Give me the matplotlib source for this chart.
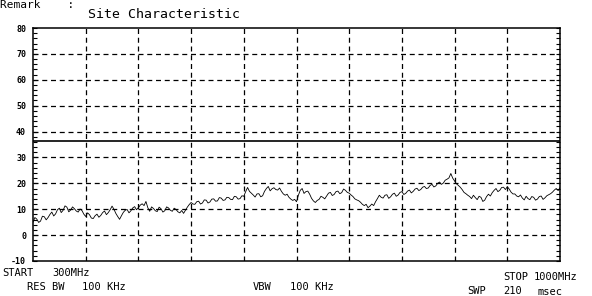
import numpy as np
import matplotlib
matplotlib.use("Agg")
import matplotlib.pyplot as plt

# Sweep 300 - 1000 MHz, trace (dBuV)
# readings on the 5 MHz points
level_on = [
    5.0, 6.2, 5.4, 7.1, 6.8, 8.9, 8.2, 10.4, 9.6, 10.8,
    9.7, 10.2, 8.9, 9.5, 7.2, 7.9, 6.4, 8.1, 7.6, 9.3,
    8.7, 11.2, 8.4, 6.1, 8.8, 9.9, 9.4, 11.0, 10.6, 12.1,
    13.0, 9.2, 10.3, 9.1, 10.2, 9.4, 10.5, 9.2, 9.9, 8.6,
    8.4, 10.8, 12.6, 11.9, 13.1, 12.4, 13.5, 12.8, 14.0, 13.2,
    14.3, 13.6, 14.5, 13.7, 14.8, 14.1, 15.0, 18.4, 16.2, 14.7,
    16.0, 15.2, 18.0, 17.1, 18.3, 17.4, 16.9, 15.4, 14.6, 13.4,
    12.9, 17.3, 16.1, 17.0, 14.2, 12.6, 13.8, 14.6, 15.1, 16.5,
    15.7, 17.0, 16.4, 17.3, 16.2, 14.9, 13.6, 12.7, 11.4, 10.6,
    12.0, 12.9, 15.4, 14.3, 15.6, 14.8, 16.2, 15.5, 16.8, 16.1,
    17.4, 16.9, 18.1, 17.6, 18.8, 18.2, 19.6, 19.0, 20.5, 20.1,
    21.6, 23.8, 20.9, 19.2, 17.6, 16.0, 14.9, 15.4, 13.7, 14.6,
    13.5, 15.8, 16.4, 18.0, 17.3, 18.5, 18.7, 16.6, 15.9, 14.8,
    14.3, 15.0, 13.7, 14.6, 13.9, 15.1, 14.4, 15.6, 16.6, 18.0,
    18.3,
]
# readings half way between (302.5, 307.5, ... 997.5 MHz)
level_half = [
    6.8, 4.9, 7.3, 5.9, 8.0, 7.4, 9.8, 8.7, 11.3, 9.0,
    10.9, 9.3, 10.1, 8.1, 8.6, 6.6, 7.5, 6.9, 8.7, 7.9,
    9.8, 10.0, 7.2, 7.5, 9.6, 8.6, 10.5, 9.8, 11.6, 11.4,
    10.6, 10.9, 9.4, 10.8, 8.9, 10.9, 9.6, 10.4, 9.0, 9.5,
    9.6, 11.8, 12.0, 12.9, 12.0, 13.6, 12.4, 13.9, 13.1, 14.5,
    13.4, 14.6, 13.8, 15.0, 13.9, 15.2, 16.8, 16.9, 15.5, 15.9,
    14.8, 16.9, 18.8, 17.9, 17.6, 18.2, 15.9, 15.8, 13.9, 13.8,
    15.4, 18.0, 16.8, 15.8, 13.2, 13.4, 15.0, 14.0, 16.2, 15.3,
    16.8, 16.0, 17.8, 16.5, 15.5, 14.0, 13.3, 11.9, 11.9, 11.2,
    11.4, 14.1, 14.6, 15.4, 14.2, 15.8, 15.0, 16.5, 15.7, 17.0,
    16.3, 17.8, 17.2, 18.5, 18.0, 19.2, 18.6, 20.0, 19.6, 21.2,
    22.1, 22.0, 19.8, 18.5, 16.5, 15.4, 14.1, 14.5, 15.0, 13.0,
    14.9, 15.1, 17.3, 16.8, 18.4, 17.6, 17.8, 15.9, 15.1, 15.5,
    13.6, 14.1, 14.9, 13.5, 14.9, 13.8, 15.2, 16.0, 17.4, 17.2,
]
limit_db = 36.2

freq_mhz = np.arange(300, 1000.1, 2.5)
level_db = np.empty(len(freq_mhz))
level_db[0::2] = level_on
level_db[1::2] = level_half

y_ticks = np.arange(-10, 81, 10)
y_labels = [str(v) for v in y_ticks]
x_grid = np.arange(370, 1000, 70)

mono = "DejaVu Sans Mono"

fig = plt.figure(figsize=(5.92, 2.96), dpi=100)
ax = fig.add_axes([33 / 592, 1 - 261 / 296, 527 / 592, 233 / 296])

# dashed graticule
for x in x_grid:
    ax.axvline(x, color="black", lw=0.9, ls=(0, (4, 3)), zorder=1)
for y in y_ticks[1:-1]:
    ax.axhline(y, color="black", lw=0.9, ls=(0, (4, 3)), zorder=1)

ax.axhline(limit_db, color="black", lw=1.2, zorder=2)
ax.plot(freq_mhz, level_db, color="black", lw=0.6, zorder=3)

ax.set_xlim(300, 1000)
ax.set_ylim(-10, 80)
ax.set_xticks([])
ax.set_yticks(y_ticks)
ax.set_yticklabels(y_labels, fontsize=6, family=mono, fontweight="bold")
ax.set_yticks(np.arange(-10, 81, 2), minor=True)
ax.tick_params(axis="y", which="both", direction="in", right=True,
               length=3, width=0.8, pad=5)
for s in ax.spines.values():
    s.set_linewidth(1.1)

fig.text(0.0, 1.0, "Remark    :", fontsize=8, family=mono, va="top")
fig.text(88 / 592, 1 - 15 / 296, "Site Characteristic", fontsize=9.5,
         family=mono, va="center")

def put(x, y, s):
    fig.text(x / 592, 1 - y / 296, s, fontsize=7.5, family=mono, va="center")

put(2, 273, "START")
put(52, 273, "300MHz")
put(27, 287, "RES BW")
put(82, 287, "100 KHz")
put(253, 287, "VBW")
put(290, 287, "100 KHz")
put(503, 277, "STOP")
put(534, 277, "1000MHz")
put(467, 291, "SWP")
put(503, 291, "210")
put(537, 292, "msec")

fig.savefig("out.png", dpi=100)
